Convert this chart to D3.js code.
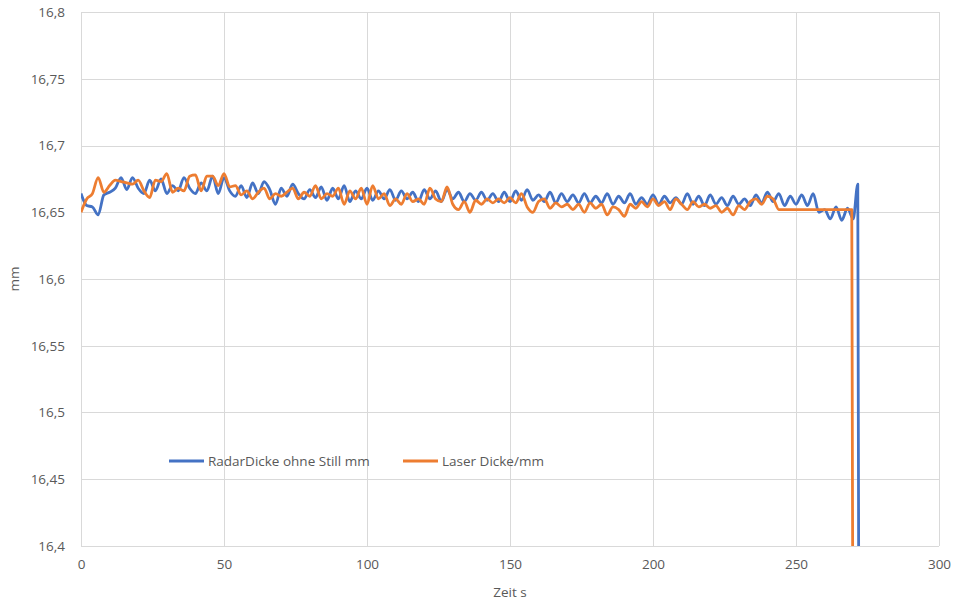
<!DOCTYPE html>
<html><head><meta charset="utf-8">
<script src="https://cdn.jsdelivr.net/npm/d3@7"></script>
<style>body{margin:0;background:#fff;} text{font-family:"Open Sans",Lato,sans-serif;}</style>
</head><body><svg id="c" width="953" height="601"></svg>
<script>
const yTicks = [16.4,16.45,16.5,16.55,16.6,16.65,16.7,16.75,16.8];
const xTicks = [0,50,100,150,200,250,300];
const seriesNames = ["RadarDicke ohne Still mm","Laser Dicke/mm"];

const radarTime = [0,2,4,6,8,10,12,14,16,18,20,22,24,26,28,30,32,34,36,38,40,42,44,46,48,50,52,54,56,58,60,62,64,66,68,70,72,74,76,78,80,82,84,86,88,90,92,94,96,98,100,102,104,106,108,110,112,114,116,118,120,122,124,126,128,130,132,134,136,138,140,142,144,146,148,150,152,154,156,158,160,162,164,166,168,170,172,174,176,178,180,182,184,186,188,190,192,194,196,198,200,202,204,206,208,210,212,214,216,218,220,222,224,226,228,230,232,234,236,238,240,242,244,246,248,250,252,254,256,258,260,262,264,266,268,270,271.6,271.9];
const radarValue = [16.664,16.655,16.654,16.648,16.663,16.665,16.668,16.676,16.667,16.676,16.668,16.664,16.674,16.666,16.675,16.664,16.670,16.666,16.676,16.668,16.664,16.672,16.666,16.677,16.664,16.676,16.666,16.662,16.670,16.661,16.672,16.664,16.673,16.667,16.656,16.668,16.662,16.671,16.664,16.660,16.667,16.661,16.669,16.659,16.668,16.660,16.670,16.658,16.666,16.660,16.668,16.659,16.666,16.660,16.667,16.659,16.666,16.660,16.665,16.658,16.667,16.660,16.666,16.658,16.667,16.660,16.665,16.658,16.664,16.659,16.665,16.659,16.664,16.658,16.665,16.658,16.666,16.659,16.667,16.659,16.663,16.658,16.665,16.657,16.664,16.658,16.663,16.657,16.664,16.657,16.662,16.657,16.664,16.656,16.662,16.657,16.664,16.656,16.661,16.656,16.663,16.656,16.662,16.657,16.661,16.656,16.664,16.656,16.662,16.655,16.663,16.656,16.661,16.655,16.662,16.656,16.660,16.655,16.663,16.657,16.665,16.658,16.664,16.655,16.662,16.656,16.663,16.655,16.664,16.650,16.652,16.645,16.654,16.644,16.653,16.645,16.671,16.4];

const laserTime = [0,2,4,6,8,10,12,14,16,18,20,22,24,26,28,30,32,34,36,38,40,42,44,46,48,50,52,54,56,58,60,62,64,66,68,70,72,74,76,78,80,82,84,86,88,90,92,94,96,98,100,102,104,106,108,110,112,114,116,118,120,122,124,126,128,130,132,134,136,138,140,142,144,146,148,150,152,154,156,158,160,162,164,166,168,170,172,174,176,178,180,182,184,186,188,190,192,194,196,198,200,202,204,206,208,210,212,214,216,218,220,222,224,226,228,230,232,234,236,238,240,242,244,246,269.5,269.8];
const laserValue = [16.650,16.660,16.664,16.676,16.665,16.670,16.674,16.673,16.672,16.671,16.674,16.666,16.661,16.674,16.673,16.679,16.665,16.668,16.666,16.677,16.678,16.666,16.677,16.677,16.670,16.679,16.669,16.670,16.663,16.666,16.660,16.665,16.668,16.660,16.664,16.662,16.665,16.668,16.660,16.665,16.662,16.670,16.660,16.664,16.662,16.668,16.656,16.666,16.660,16.668,16.656,16.670,16.660,16.664,16.655,16.660,16.656,16.664,16.658,16.660,16.656,16.668,16.660,16.658,16.669,16.656,16.652,16.658,16.650,16.659,16.656,16.660,16.657,16.660,16.657,16.661,16.657,16.664,16.654,16.650,16.658,16.660,16.653,16.657,16.654,16.656,16.652,16.656,16.650,16.657,16.653,16.656,16.648,16.654,16.652,16.647,16.656,16.653,16.658,16.654,16.660,16.655,16.658,16.652,16.660,16.656,16.652,16.658,16.654,16.656,16.653,16.655,16.650,16.653,16.648,16.655,16.652,16.658,16.660,16.656,16.662,16.660,16.652,16.652,16.652,16.4];

const colors = ["#4472C4","#ED7D31"];
const svg = d3.select("#c");
const L=81, R=939, T=12, B=546;
const x = d3.scaleLinear().domain([0,300]).range([L,R]);
const y = d3.scaleLinear().domain([16.4,16.8]).range([B,T]);
const fmt = v => String(+v.toFixed(2)).replace(".", ",");
const grid = "#d9d9d9";
const fs = "13.5px";

svg.append("g").selectAll("line").data(yTicks).join("line")
  .attr("x1",L).attr("x2",R).attr("y1",d=>Math.round(y(d))+0.5).attr("y2",d=>Math.round(y(d))+0.5)
  .attr("stroke",grid).attr("stroke-width",1);
svg.append("g").selectAll("line").data(xTicks).join("line")
  .attr("y1",T).attr("y2",B).attr("x1",d=>Math.round(x(d))+0.5).attr("x2",d=>Math.round(x(d))+0.5)
  .attr("stroke",grid).attr("stroke-width",1);

const yAxis = svg.append("g").attr("transform",`translate(${L},0)`)
  .call(d3.axisLeft(y).tickValues(yTicks).tickFormat(fmt).tickSize(0).tickPadding(16));
yAxis.select(".domain").remove();
yAxis.selectAll("text").attr("fill","#595959").style("font-size",fs);
const xAxis = svg.append("g").attr("transform",`translate(0,${B})`)
  .call(d3.axisBottom(x).tickValues(xTicks).tickFormat(d=>d).tickSize(0).tickPadding(13));
xAxis.select(".domain").remove();
xAxis.selectAll("text").attr("fill","#595959").style("font-size",fs);

svg.append("text").attr("x",(L+R)/2).attr("y",597).attr("text-anchor","middle")
  .attr("fill","#595959").style("font-size",fs).text("Zeit s");
svg.append("text").attr("transform",`translate(19,${(T+B)/2}) rotate(-90)`).attr("text-anchor","middle")
  .attr("fill","#595959").style("font-size",fs).text("mm");

svg.append("clipPath").attr("id","clip").append("rect").attr("x",L).attr("y",T).attr("width",R-L).attr("height",B-T);
const line = d3.line().x(d=>x(d[0])).y(d=>y(d[1])).curve(d3.curveMonotoneX);
const series = [
  d3.zip(radarTime, radarValue),
  d3.zip(laserTime, laserValue)
];
svg.append("g").attr("clip-path","url(#clip)").selectAll("path").data(series).join("path")
  .attr("d",line).attr("fill","none").attr("stroke",(d,i)=>colors[i]).attr("stroke-width",2.8)
  .attr("stroke-linejoin","round");

const legendX = [169, 403];
const lg = svg.append("g");
seriesNames.forEach((n,i)=>{
  lg.append("line").attr("x1",legendX[i]).attr("x2",legendX[i]+35).attr("y1",461).attr("y2",461)
    .attr("stroke",colors[i]).attr("stroke-width",2.8);
  lg.append("text").attr("x",legendX[i]+39).attr("y",465.5).attr("fill","#595959")
    .style("font-size",fs).text(n);
});
</script></body></html>
